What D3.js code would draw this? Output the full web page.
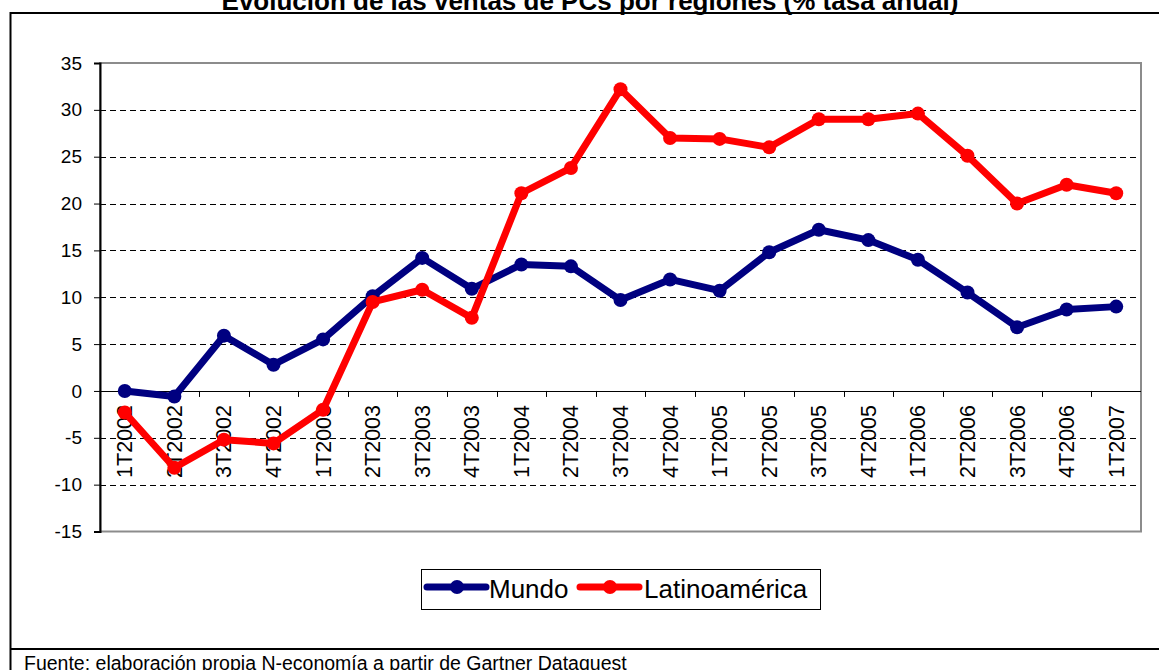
<!DOCTYPE html>
<html>
<head>
<meta charset="utf-8">
<script src="https://cdn.jsdelivr.net/npm/d3@7"></script>
<style>
  body { margin: 0; background: #fff; }
  text { font-family: "Liberation Sans", Arial, sans-serif; }
</style>
</head>
<body>
<div id="chart-area"></div>
<script>
// data
const quarters = ["1T2002", "2T2002", "3T2002", "4T2002", "1T2003", "2T2003", "3T2003",
  "4T2003", "1T2004", "2T2004", "3T2004", "4T2004", "1T2005", "2T2005", "3T2005",
  "4T2005", "1T2006", "2T2006", "3T2006", "4T2006", "1T2007"];
const mundo = [0, -0.6, 5.9, 2.8, 5.5, 10.1, 14.2, 10.9, 13.5, 13.3, 9.7,
  11.9, 10.7, 14.8, 17.2, 16.1, 14.0, 10.5, 6.8, 8.7, 9.0];
const latam = [-2.3, -8.2, -5.2, -5.6, -2.0, 9.5, 10.8, 7.8, 21.1, 23.8, 32.2,
  27.0, 26.9, 26.0, 29.0, 29.0, 29.6, 25.1, 20.0, 22.0, 21.1];
const yTicks = [-15, -10, -5, 0, 5, 10, 15, 20, 25, 30, 35];
const seriesNames = ["Mundo", "Latinoamérica"];

const W = 1159, H = 670;
const plot = { left: 100, right: 1141, top: 63, bottom: 531.5 };

const svg = d3.select("#chart-area")
  .append("svg")
  .attr("width", W)
  .attr("height", H);

svg.append("rect")
  .attr("width", W)
  .attr("height", H)
  .attr("fill", "#fff");

// outer frame
svg.append("path")
  .attr("d", `M${W + 5},13 H10.5 V${H + 5} M10.5,649 H${W + 5}`)
  .attr("fill", "none")
  .attr("stroke", "#000")
  .attr("stroke-width", 2);

// title (cut off at top like the original)
svg.append("text")
  .attr("x", 590)
  .attr("y", 10)
  .attr("text-anchor", "middle")
  .attr("font-size", "26px")
  .attr("font-weight", "bold")
  .text("Evolución de las ventas de PCs por regiones (% tasa anual)");

// footer
svg.append("text")
  .attr("x", 24)
  .attr("y", 670)
  .attr("font-size", "19.5px")
  .text("Fuente: elaboración propia N-economía a partir de Gartner Dataquest");

const x = d3.scaleBand()
  .domain(quarters)
  .range([plot.left, plot.right])
  .padding(0);

const y = d3.scaleLinear()
  .domain([-15, 35])
  .range([plot.bottom, plot.top]);

// grid lines
svg.append("g")
  .selectAll("line")
  .data(yTicks.filter((d) => d !== 0 && d !== 35 && d !== -15))
  .enter()
  .append("line")
  .attr("x1", plot.left)
  .attr("x2", plot.right)
  .attr("y1", (d) => Math.round(y(d)) + 0.5)
  .attr("y2", (d) => Math.round(y(d)) + 0.5)
  .attr("stroke", "#000")
  .attr("stroke-dasharray", "6,4");

// plot border
svg.append("rect")
  .attr("x", plot.left)
  .attr("y", plot.top)
  .attr("width", plot.right - plot.left)
  .attr("height", plot.bottom - plot.top)
  .attr("fill", "none")
  .attr("stroke", "#8c8c8c")
  .attr("stroke-width", 2);

// Y axis
const yAxisCall = d3.axisLeft(y)
  .tickValues(yTicks)
  .tickSize(6)
  .tickPadding(12)
  .tickFormat((d) => String(d));
const yAxis = svg.append("g")
  .attr("transform", `translate(${plot.left}, 0)`)
  .call(yAxisCall);
yAxis.select(".domain").attr("stroke", "#000").attr("stroke-width", 2);
yAxis.selectAll("text")
  .attr("font-size", "19px")
  .attr("fill", "#000");

// X axis at zero, ticks on band edges
const xAxisCall = d3.axisBottom(x)
  .tickSize(0)
  .tickFormat("");
svg.append("g")
  .attr("transform", `translate(0, ${Math.round(y(0)) + 0.5})`)
  .call(xAxisCall)
  .call((g) => g.select(".domain").attr("stroke", "#000").attr("d", `M${plot.left},0H${plot.right}`));

svg.append("g")
  .selectAll("line")
  .data(quarters.slice(1))
  .enter()
  .append("line")
  .attr("x1", (d) => Math.round(x(d)) + 0.5)
  .attr("x2", (d) => Math.round(x(d)) + 0.5)
  .attr("y1", y(0))
  .attr("y2", y(0) + 6)
  .attr("stroke", "#000");

// X labels
svg.append("g")
  .selectAll("text")
  .data(quarters)
  .enter()
  .append("text")
  .attr("transform", (d) => `translate(${x(d) + x.bandwidth() / 2 + 7.5}, 405) rotate(-90)`)
  .attr("text-anchor", "end")
  .attr("font-size", "21.5px")
  .text((d) => d);

// series
const line = d3.line()
  .x((d, i) => x(quarters[i]) + x.bandwidth() / 2)
  .y((d) => y(d));

const series = [
  { name: seriesNames[0], values: mundo, color: "#000080" },
  { name: seriesNames[1], values: latam, color: "#ff0000" },
];

series.forEach((s) => {
  svg.append("path")
    .datum(s.values)
    .attr("d", line)
    .attr("fill", "none")
    .attr("stroke", s.color)
    .attr("stroke-width", 7)
    .attr("stroke-linejoin", "round");

  svg.append("g")
    .selectAll("circle")
    .data(s.values)
    .enter()
    .append("circle")
    .attr("cx", (d, i) => x(quarters[i]) + x.bandwidth() / 2)
    .attr("cy", (d) => y(d))
    .attr("r", 7)
    .attr("fill", s.color);
});

// Legend
const legend = svg.append("g");
legend.append("rect")
  .attr("x", 421.5)
  .attr("y", 569.5)
  .attr("width", 399)
  .attr("height", 40)
  .attr("fill", "#fff")
  .attr("stroke", "#000");

const legendItems = [
  { x0: 427, text: 489 },
  { x0: 580, text: 644 },
];
legendItems.forEach((it, i) => {
  legend.append("line")
    .attr("x1", it.x0)
    .attr("x2", it.x0 + 59)
    .attr("y1", 587)
    .attr("y2", 587)
    .attr("stroke", series[i].color)
    .attr("stroke-width", 7)
    .attr("stroke-linecap", "round");
  legend.append("circle")
    .attr("cx", it.x0 + 30)
    .attr("cy", 587)
    .attr("r", 7)
    .attr("fill", series[i].color);
  legend.append("text")
    .attr("x", it.text)
    .attr("y", 598)
    .attr("font-size", "26px")
    .text(series[i].name);
});
</script>
</body>
</html>
